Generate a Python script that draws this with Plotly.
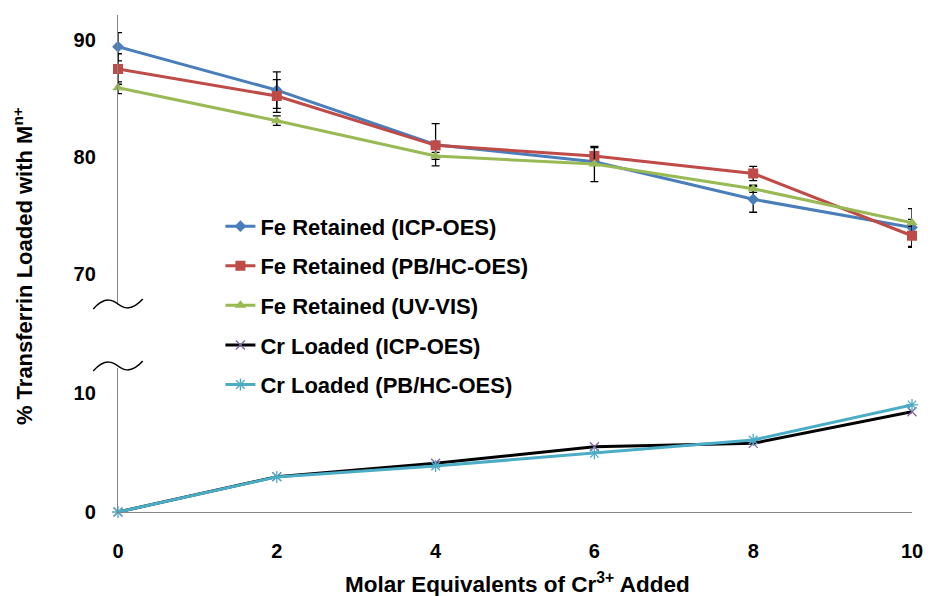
import plotly.graph_objects as go

# Molar equivalents of Cr3+ added
equivalents = [0, 2, 4, 6, 8, 10]

# Fe retained (% transferrin) by method, with standard deviations
fe_icp = [89.4, 85.7, 81.05, 79.6, 76.4, 74.0]
fe_icp_err = [1.2, 1.55, 1.8, 0.3, 1.1, 1.6]
fe_pb = [87.5, 85.2, 81.0, 80.1, 78.6, 73.3]
fe_pb_err = [1.3, 1.4, 0.2, 0.7, 0.6, 1.0]
fe_uv = [85.9, 83.1, 80.1, 79.4, 77.3, 74.4]
fe_uv_err = [0.5, 0.4, 0.3, 1.5, 0.3, 0.3]

# Cr loaded (% transferrin) by method
cr_icp = [0, 2.97, 4.09, 5.49, 5.77, 8.43]
cr_pb = [0, 2.95, 3.87, 4.93, 6.05, 9.0]

x_ticks = [0, 2, 4, 6, 8, 10]
upper_ticks = [70, 80, 90]
lower_ticks = [0, 10]

FONT = "Arial, Liberation Sans, sans-serif"
AXIS_GREY = "#868686"

fig = go.Figure()


def err(vals):
    return dict(type="data", array=vals, visible=True, color="black",
                thickness=1.3, width=4)


fe_series = [
    ("Fe Retained (ICP-OES)", fe_icp, fe_icp_err, "#4A7EBB", "diamond", 9),
    ("Fe Retained (PB/HC-OES)", fe_pb, fe_pb_err, "#BE4B48", "square", 10),
    ("Fe Retained (UV-VIS)", fe_uv, fe_uv_err, "#98B954", "triangle-up", 10),
]
for i, (name, vals, errs, color, symbol, size) in enumerate(fe_series):
    fig.add_trace(go.Scatter(
        x=equivalents, y=vals, name=name, mode="lines+markers",
        xaxis="x", yaxis="y2", error_y=err(errs),
        line=dict(color=color, width=3),
        marker=dict(symbol=symbol, size=size, color=color),
        legendgroup=f"g{i}", cliponaxis=False,
    ))

fig.add_trace(go.Scatter(
    x=equivalents, y=cr_icp, name="Cr Loaded (ICP-OES)", mode="lines+markers",
    xaxis="x", yaxis="y",
    line=dict(color="black", width=3),
    marker=dict(symbol="x-thin-open", size=9, color="#8064A2",
                line=dict(color="#8064A2", width=1.3)),
    legendgroup="g3", cliponaxis=False,
))
fig.add_trace(go.Scatter(
    x=equivalents, y=cr_pb, name="Cr Loaded (PB/HC-OES)", mode="lines+markers",
    xaxis="x", yaxis="y",
    line=dict(color="#4BACC6", width=3),
    marker=dict(symbol="asterisk-open", size=10, color="#4BACC6",
                line=dict(color="#4BACC6", width=1.3)),
    legendgroup="g4", cliponaxis=False,
))

tickfont = dict(family=FONT, size=20, color="black", weight="bold")

# Axis-break marks (tildes) on the left side between the two panels
def tilde(px0, px1, py):
    def fx(px):
        return (px - 118) / 803

    def fy(p):
        return (512 - p) / 497
    w = px1 - px0
    return (f"M {fx(px0)},{fy(py + 5)} "
            f"C {fx(px0 + w * 0.25)},{fy(py - 9)} {fx(px0 + w * 0.42)},{fy(py - 3)} "
            f"{fx(px0 + w * 0.5)},{fy(py)} "
            f"C {fx(px0 + w * 0.58)},{fy(py + 3)} {fx(px0 + w * 0.75)},{fy(py + 9)} "
            f"{fx(px1)},{fy(py - 5)}")


shapes = [
    dict(type="path", xref="paper", yref="paper", path=tilde(93, 143, 304),
         line=dict(color="black", width=1.5)),
    dict(type="path", xref="paper", yref="paper", path=tilde(93, 143, 366),
         line=dict(color="black", width=1.5)),
]

fig.update_layout(
    width=935, height=596,
    margin=dict(l=118, r=14, t=15, b=84),
    paper_bgcolor="white", plot_bgcolor="white",
    showlegend=True,
    legend=dict(x=0.129, y=0.617, xanchor="left", yanchor="top",
                font=dict(family=FONT, size=22, color="black", weight="bold"),
                tracegroupgap=8, bgcolor="rgba(0,0,0,0)"),
    xaxis=dict(range=[0, 10], domain=[0, 1], anchor="y",
               tickvals=x_ticks, ticks="", showgrid=False, zeroline=False,
               showline=True, linecolor=AXIS_GREY, linewidth=1.3,
               tickfont=tickfont, ticklabelstandoff=21),
    yaxis=dict(range=[0, 12.1], domain=[0, 0.2897], anchor="x",
               tickvals=lower_ticks, ticks="", showgrid=False, zeroline=False,
               showline=True, linecolor=AXIS_GREY, linewidth=1.3,
               tickfont=tickfont, ticklabelstandoff=17),
    yaxis2=dict(range=[67.4, 92.1], domain=[0.4165, 1], anchor="x",
                tickvals=upper_ticks, ticks="", showgrid=False, zeroline=False,
                showline=True, linecolor=AXIS_GREY, linewidth=1.3,
                tickfont=tickfont, ticklabelstandoff=17),
    shapes=shapes,
    annotations=[
        dict(text="% Transferrin Loaded with M<sup>n+</sup>", xref="paper",
             yref="paper", x=(22 - 118) / 803, y=(512 - 266) / 497,
             textangle=-90, showarrow=False, xanchor="center", yanchor="middle",
             font=dict(family=FONT, size=22, color="black", weight="bold")),
        dict(text="Molar Equivalents of Cr<sup>3+</sup> Added", xref="paper",
             yref="paper", x=(522 - 118) / 803, y=(512 - 583) / 497,
             showarrow=False, xanchor="center", yanchor="middle",
             font=dict(family=FONT, size=22.5, color="black", weight="bold")),
    ],
)

fig.write_html("out.html")
